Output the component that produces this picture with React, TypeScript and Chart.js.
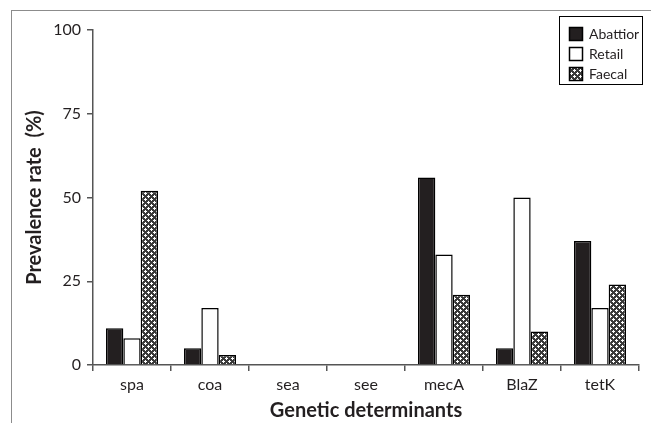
import React, { useEffect, useRef } from 'react';
import { Chart, registerables } from 'chart.js';

Chart.register(...registerables);

const categories = ['spa', 'coa', 'sea', 'see', 'mecA', 'BlaZ', 'tetK'];
const abattoir = [11, 5, 0, 0, 56, 5, 37];
const retail = [8, 17, 0, 0, 33, 50, 17];
const faecal = [52, 3, 0, 0, 21, 10, 24];
const seriesNames = ['Abattior', 'Retail', 'Faecal'];
const yTicks = [0, 25, 50, 75, 100];

const TEXT = '#231f20';

function makePattern(): CanvasPattern | string {
  const c = document.createElement('canvas');
  c.width = 6;
  c.height = 6;
  const g = c.getContext('2d');
  if (!g) return '#888';
  g.fillStyle = '#3a3a3a';
  g.fillRect(0, 0, 6, 6);
  g.fillStyle = '#ffffff';
  const plus = (x: number, y: number) => {
    g.fillRect(x, y - 1, 1, 3);
    g.fillRect(x - 1, y, 3, 1);
  };
  plus(1, 1);
  plus(4, 4);
  return g.createPattern(c, 'repeat') || '#888';
}

const legendPlugin = {
  id: 'boxLegend',
  afterDraw(chart: any) {
    const ctx = chart.ctx as CanvasRenderingContext2D;
    ctx.save();
    ctx.strokeStyle = '#000';
    ctx.lineWidth = 1;
    ctx.strokeRect(559.5, 16.5, 83, 68);
    chart.data.datasets.forEach((ds: any, i: number) => {
      const y = 27 + i * 20;
      ctx.fillStyle = ds.backgroundColor;
      ctx.fillRect(569, y, 13, 13);
      ctx.lineWidth = 1.5;
      ctx.strokeStyle = '#000';
      ctx.strokeRect(569.5, y + 0.5, 13, 13);
      ctx.fillStyle = TEXT;
      ctx.font = '14px Lato';
      ctx.textBaseline = 'middle';
      ctx.textAlign = 'left';
      ctx.fillText(ds.label, 589, y + 7);
    });
    ctx.restore();
  },
};

export default function App() {
  const ref = useRef<HTMLCanvasElement | null>(null);

  useEffect(() => {
    if (!ref.current) return;
    const pattern = makePattern();
    const tickFont = { family: 'Lato', size: 16 };
    const titleFont = { family: 'Lato', size: 20, weight: 'bold' as const };
    const chart = new Chart(ref.current, {
      type: 'bar',
      data: {
        labels: categories,
        datasets: [
          { label: seriesNames[0], data: abattoir, backgroundColor: '#231f20', borderColor: '#000', borderWidth: 1.5 },
          { label: seriesNames[1], data: retail, backgroundColor: '#ffffff', borderColor: '#000', borderWidth: 1.5 },
          { label: seriesNames[2], data: faecal, backgroundColor: pattern as any, borderColor: '#000', borderWidth: 1.5 },
        ],
      },
      options: {
        responsive: false,
        animation: false,
        layout: { padding: { top: 30, right: 12, left: 0, bottom: 0 } },
        datasets: { bar: { categoryPercentage: 0.667, barPercentage: 1 } },
        plugins: { legend: { display: false }, tooltip: { enabled: false } },
        scales: {
          x: {
            offset: true,
            grid: { display: true, offset: true, drawOnChartArea: false, drawTicks: true, tickLength: 6, color: '#555', lineWidth: 1.5 },
            border: { display: true, color: '#555', width: 1.5 },
            ticks: { color: TEXT, font: tickFont, padding: 4 },
            title: { display: true, text: 'Genetic determinants', color: TEXT, font: titleFont, padding: { top: 0, bottom: 0 } },
            afterFit: (s: any) => { s.height = 58; },
          },
          y: {
            min: 0,
            max: 100,
            afterBuildTicks: (s: any) => { s.ticks = yTicks.map((v) => ({ value: v })); },
            grid: { display: true, drawOnChartArea: false, drawTicks: true, tickLength: 6, color: '#555', lineWidth: 1.5 },
            border: { display: true, color: '#555', width: 1.5 },
            ticks: { color: TEXT, font: tickFont, padding: 6 },
            title: { display: true, text: 'Prevalence rate  (%)', color: TEXT, font: titleFont, padding: { top: 23, bottom: 0 } },
            afterFit: (s: any) => { s.width = 93; },
          },
        },
      },
      plugins: [legendPlugin],
    });
    return () => chart.destroy();
  }, []);

  return (
    <div style={{ position: 'fixed', left: 0, top: 0, width: 651, height: 423, background: '#fff' }}>
      <canvas ref={ref} width={651} height={423} style={{ position: 'absolute', left: 0, top: 0, width: 651, height: 423 }} />
      <div
        style={{
          position: 'absolute',
          left: 11,
          top: 10,
          width: 651 - 11,
          height: 423 - 10,
          borderTop: '1.5px solid #8c8c8c',
          borderLeft: '1.5px solid #8c8c8c',
          boxSizing: 'border-box',
          pointerEvents: 'none',
        }}
      />
    </div>
  );
}
